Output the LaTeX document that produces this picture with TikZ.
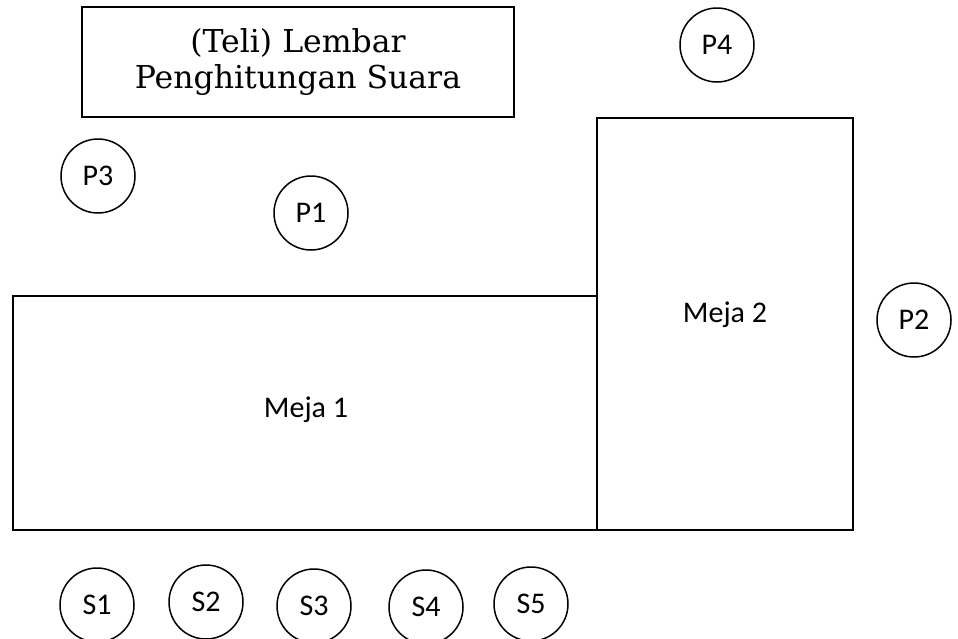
\documentclass[tikz,border=0pt]{standalone}
\usepackage{fontspec}
\setmainfont{Carlito}
\newfontfamily\titlefont{DejaVu Serif}
\begin{document}
\begin{tikzpicture}[x=1pt,y=-1pt,
  seat/.style={draw,circle,line width=1.5pt,minimum size=74pt,inner sep=0pt,font=\fontsize{30}{33}\selectfont},
  table/.style={draw,rectangle,line width=1.5pt,inner sep=0pt},
  lab/.style={font=\fontsize{30}{33}\selectfont,inner sep=0pt}]
\clip (0,0) rectangle (958,638);
\fill[white] (0,0) rectangle (958,638);
\node[table,minimum width=432pt,minimum height=110pt,align=center,
      font=\titlefont\fontsize{31.5}{36}\selectfont] (title) at (298,62) {(Teli) Lembar\\Penghitungan Suara};
\node[table,minimum width=584pt,minimum height=234pt] (meja1) at (305,413) {};
\node[table,minimum width=256pt,minimum height=412pt] (meja2) at (725,324) {};
\node[lab] (m1) at (306,410) {Meja 1};
\node[lab] (m2) at (725,315) {Meja 2};
\node[seat] (p4) at (717,45) {P4};
\node[seat] (p3) at (98,176) {P3};
\node[seat] (p1) at (311,213) {P1};
\node[seat] (p2) at (914,320) {P2};
\node[seat] (s1) at (97,605) {S1};
\node[seat] (s2) at (206,602) {S2};
\node[seat] (s3) at (314,606) {S3};
\node[seat] (s4) at (426,607) {S4};
\node[seat] (s5) at (531,604) {S5};
\end{tikzpicture}
\end{document}
